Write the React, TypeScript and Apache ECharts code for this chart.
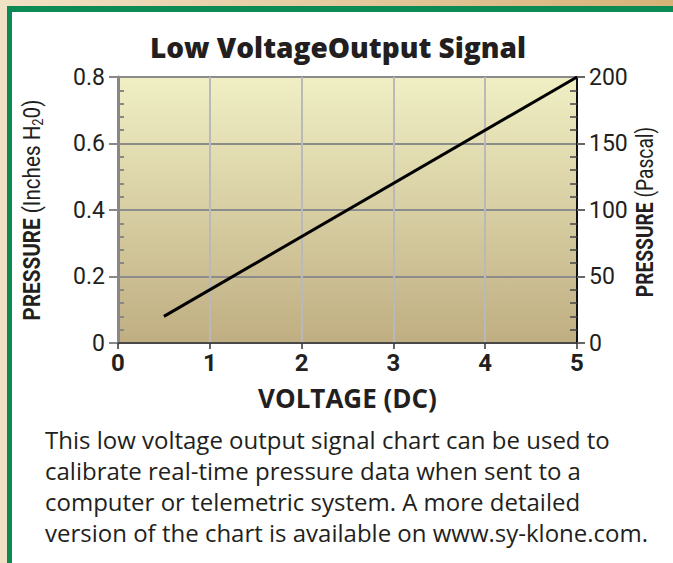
import React, { useEffect, useRef } from "react";
import * as echarts from "echarts";

const voltage = [0.5, 5];
const pressureInH2O = [0.08, 0.8];
const xTicks = [0, 1, 2, 3, 4, 5];
const leftTicks = [0, 0.2, 0.4, 0.6, 0.8];
const rightTicks = [0, 50, 100, 150, 200];
const titleText = "Low VoltageOutput Signal";
const paragraph = [
  "This low voltage output signal chart can be used to",
  "calibrate real-time pressure data when sent to a",
  "computer or telemetric system. A more detailed",
  "version of the chart is available on www.sy-klone.com.",
];

const COND = "Roboto, 'Noto Sans', sans-serif";
const SANS = "'Open Sans', 'Noto Sans', sans-serif";

export default function App() {
  const ref = useRef<HTMLDivElement>(null);
  useEffect(() => {
    document.body.style.margin = "0";
    const chart = echarts.init(ref.current!, null, { renderer: "svg" });
    const gridGrad = new echarts.graphic.LinearGradient(0, 0, 0, 1, [
      { offset: 0, color: "#f0efc4" },
      { offset: 1, color: "#bfae82" },
    ]);
    const option: any = {
      animation: false,
      backgroundColor: "#f1e2c6",
      grid: {
        left: 118,
        right: 96,
        top: 77,
        bottom: 220,
        show: true,
        backgroundColor: gridGrad,
        borderWidth: 0,
        outerBoundsMode: "none",
        containLabel: false,
      },
      graphic: [
        {
          type: "rect",
          z: -10,
          shape: { x: 0, y: 0, width: 673, height: 10 },
          style: {
            fill: new echarts.graphic.LinearGradient(0, 0, 1, 0, [
              { offset: 0, color: "#f1e2c6" },
              { offset: 1, color: "#d7b378" },
            ]),
          },
          silent: true,
        },
        {
          type: "rect",
          z: -9,
          shape: { x: 7, y: 6, width: 700, height: 600 },
          style: { fill: "#0b8a56" },
          silent: true,
        },
        {
          type: "rect",
          z: -8,
          shape: { x: 12, y: 12, width: 700, height: 600 },
          style: { fill: "#ffffff" },
          silent: true,
        },
        {
          type: "text",
          x: 338,
          y: 47,
          style: {
            text: titleText,
            fill: "#231f20",
            font: `800 28px ${SANS}`,
            align: "center",
            verticalAlign: "middle",
          },
        },
        {
          type: "text",
          x: 45,
          y: 424,
          style: {
            text: paragraph.join("\n"),
            fill: "#231f20",
            fontSize: 24,
            fontFamily: SANS,
            lineHeight: 31,
            align: "left",
            verticalAlign: "top",
          },
        },
        {
          type: "text",
          x: 31,
          y: 210,
          rotation: Math.PI / 2,
          scaleX: 0.86,
          style: {
            text: "{b|PRESSURE }{n|(Inches H}{s|2}{n|0)}",
            align: "center",
            verticalAlign: "middle",
            rich: {
              b: { fontSize: 24, fontWeight: "bold", fontFamily: COND, fill: "#231f20", lineHeight: 28 },
              n: { fontSize: 24, fontFamily: COND, fill: "#231f20", lineHeight: 28 },
              s: { fontSize: 15, fontFamily: COND, fill: "#231f20", verticalAlign: "bottom", lineHeight: 14 },
            },
          },
        },
        {
          type: "text",
          x: 645,
          y: 212,
          rotation: Math.PI / 2,
          scaleX: 0.8,
          style: {
            text: "{b|PRESSURE }{n|(Pascal)}",
            align: "center",
            verticalAlign: "middle",
            rich: {
              b: { fontSize: 24, fontWeight: "bold", fontFamily: COND, fill: "#231f20" },
              n: { fontSize: 24, fontFamily: COND, fill: "#231f20" },
            },
          },
        },
      ],
      xAxis: {
        type: "value",
        min: 0,
        max: 5,
        interval: 1,
        position: "bottom",
        axisLine: { show: true, onZero: false, lineStyle: { color: "#333", width: 1.5 } },
        axisTick: { show: true, length: 6, lineStyle: { color: "#333", width: 1.5 } },
        axisLabel: {
          color: "#231f20",
          fontSize: 24,
          fontWeight: "bold",
          fontFamily: COND,
          margin: 8,
          formatter: (v: number) => (xTicks.includes(v) ? String(v) : ""),
        },
        splitLine: { show: true, lineStyle: { color: "#b9b9b9", width: 2 } },
        name: "VOLTAGE (DC)",
        nameLocation: "middle",
        nameGap: 42,
        nameTextStyle: { color: "#231f20", fontSize: 26, fontWeight: "bold", fontFamily: SANS },
      },
      yAxis: [
        {
          type: "value",
          min: 0,
          max: 0.8,
          interval: 0.2,
          position: "left",
          axisLine: { show: true, lineStyle: { color: "#888", width: 3 } },
          axisTick: { show: true, length: 9, lineStyle: { color: "#888", width: 2 } },
          axisLabel: {
            color: "#231f20",
            fontSize: 23,
            fontFamily: COND,
            margin: 13,
            formatter: (v: number) => {
              const t = leftTicks.find((x) => Math.abs(x - v) < 1e-9);
              return t === undefined ? "" : t === 0 ? "0" : t.toFixed(1);
            },
          },
          splitLine: { show: true, lineStyle: { color: "#8c8c8c", width: 2 } },
        },
        {
          type: "value",
          min: 0,
          max: 200,
          interval: 50,
          position: "right",
          axisLine: { show: true, lineStyle: { color: "#111", width: 2 } },
          axisTick: { show: true, length: 8, lineStyle: { color: "#666", width: 2 } },
          axisLabel: {
            color: "#231f20",
            fontSize: 23,
            fontFamily: COND,
            margin: 12,
            formatter: (v: number) => (rightTicks.includes(v) ? String(v) : ""),
          },
          splitLine: { show: false },
        },
        {
          type: "value",
          min: 0,
          max: 0.8,
          interval: 0.2,
          position: "left",
          axisLine: { show: false },
          axisTick: { show: false, inside: true },
          axisLabel: { show: false },
          splitLine: { show: false },
          minorTick: { show: true, splitNumber: 5, length: 6, lineStyle: { color: "#888", width: 2 } },
        },
        {
          type: "value",
          min: 0,
          max: 200,
          interval: 50,
          position: "right",
          axisLine: { show: false },
          axisTick: { show: false, inside: true },
          axisLabel: { show: false },
          splitLine: { show: false },
          minorTick: { show: true, splitNumber: 5, length: 7, lineStyle: { color: "#444", width: 1.5 } },
        },
      ],
      series: [
        {
          type: "line",
          yAxisIndex: 0,
          data: voltage.map((v, i) => [v, pressureInH2O[i]]),
          showSymbol: false,
          lineStyle: { color: "#000", width: 3 },
          z: 5,
        },
      ],
    };
    chart.setOption(option);
    return () => chart.dispose();
  }, []);
  return <div ref={ref} style={{ width: 673, height: 563 }} />;
}
